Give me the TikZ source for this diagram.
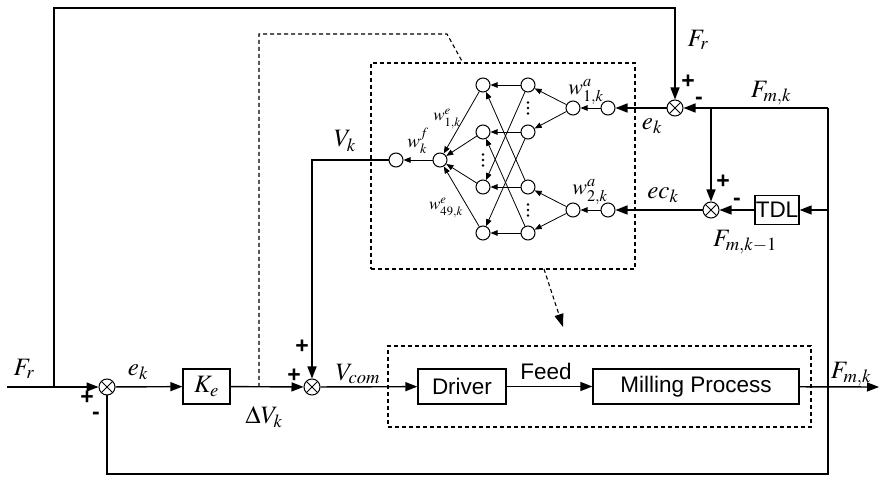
\documentclass[tikz,border=0pt]{standalone}
\usepackage{mathptmx}
\usepackage[no-math]{fontspec}
\setmainfont{Liberation Serif}
\setsansfont{Liberation Sans}
\usetikzlibrary{arrows.meta}
\tikzset{
  sig/.style={line width=1.4pt},
  arr/.style={sig,-{Triangle[length=12pt,width=9pt]}},
  sumnode/.style={circle,draw,line width=1pt,minimum size=16pt,inner sep=0pt,
    path picture={\draw[line width=0.8pt]
      (path picture bounding box.north west)--(path picture bounding box.south east)
      (path picture bounding box.north east)--(path picture bounding box.south west);}},
  blk/.style={draw,line width=1.3pt,inner sep=0pt,font=\sffamily\fontsize{22.5}{26}\selectfont},
  neu/.style={circle,draw,line width=1pt,minimum size=14pt,inner sep=0pt},
  narr/.style={line width=0.8pt,-{Triangle[length=7pt,width=5.5pt]}},
  dsh/.style={line width=1.1pt,dash pattern=on 4pt off 3pt},
  lbl/.style={font=\fontsize{25}{28}\selectfont,inner sep=0pt},
  sansl/.style={font=\sffamily\fontsize{22.5}{26}\selectfont,inner sep=0pt},
  sgn/.style={font=\sffamily\bfseries\fontsize{23}{26}\selectfont,inner sep=0pt},
  walbl/.style={font=\fontsize{22}{24}\selectfont,inner sep=0pt},
  wflbl/.style={font=\fontsize{19}{22}\selectfont,inner sep=0pt},
  welbl/.style={font=\fontsize{17}{20}\selectfont,inner sep=0pt},
  dotm/.style={fill,circle,inner sep=0pt,minimum size=2.6pt},
}
\begin{document}
\begin{tikzpicture}[x=1pt,y=-1pt]
\useasboundingbox (0,0) rectangle (879,478);
% ---- main loop nodes
\coordinate (in) at (7,387);
\coordinate (bFr) at (54,387);
\node[sumnode] (s1) at (107,387) {};
\node[blk,minimum width=47pt,minimum height=35pt,font=\fontsize{25}{28}\selectfont] (Ke) at (206.5,386.5) {$K_e$};
\coordinate (bdV) at (259,387);
\node[sumnode] (s2) at (312,387) {};
\node[blk,minimum width=88pt,minimum height=35pt] (drv) at (462,386.5) {Driver};
\node[blk,minimum width=206pt,minimum height=35pt] (mill) at (696,386.5) {Milling Process};
\coordinate (bFm) at (828,387);
\coordinate (out) at (879,387);
\coordinate (bl) at (828,474);
\coordinate (bl2) at (107,474);
\coordinate (t1) at (54,8);
\coordinate (t2) at (675,8);
% ---- right side
\node[sumnode] (s3) at (675,108) {};
\coordinate (tr) at (828,108);
\coordinate (b2) at (711,108);
\node[sumnode] (s4) at (711,210) {};
\node[blk,minimum width=44pt,minimum height=29pt] (tdl) at (777,210) {TDL};
\coordinate (tdlin) at (828,210);
% ---- neural network
\node[neu] (a1) at (608,108) {};
\node[neu] (a2) at (608,210) {};
\node[neu] (h1) at (573,108) {};
\node[neu] (h2) at (573,210) {};
\node[neu] (c1) at (528,85) {};
\node[neu] (c2) at (528,132) {};
\node[neu] (c3) at (528,187) {};
\node[neu] (c4) at (528,233) {};
\node[neu] (d1) at (483,85) {};
\node[neu] (d2) at (483,132) {};
\node[neu] (d3) at (483,187) {};
\node[neu] (d4) at (483,233) {};
\node[neu] (o1) at (440,160) {};
\node[neu] (o2) at (396,160) {};
\coordinate (vk) at (312,160);
\foreach \x/\y [count=\n] in {528/108, 528/210, 483/160} {
  \node[dotm] (dA\n) at (\x,\y-5.5) {};
  \node[dotm] (dB\n) at (\x,\y) {};
  \node[dotm] (dC\n) at (\x,\y+5.5) {};
}
% ---- dashed frames
\node[draw,dsh,minimum width=264pt,minimum height=206pt,inner sep=0pt] (nnbox) at (503,166) {};
\node[draw,dsh,minimum width=423pt,minimum height=81pt,inner sep=0pt] (plant) at (599.5,386.5) {};
\coordinate (dk1) at (259,34);
\coordinate (dk2) at (447,34);
\coordinate (dk3) at (463,63);
\coordinate (da1) at (544,269);
\coordinate (da2) at (563,327);
\draw[dsh] (bdV) -- (dk1) -- (dk2) -- (dk3);
\draw[dsh,-{Triangle[length=13pt,width=9pt]}] (da1) -- (da2);
% ---- connectors main
\draw[arr] (in) -- (s1);
\draw[arr] (bFr) -- (t1) -- (t2) -- (s3);
\draw[arr] (s1) -- (Ke);
\draw[arr] (Ke) -- (s2);
\draw[arr] (s2) -- (drv);
\draw[arr] (drv) -- (mill);
\draw[arr] (mill) -- (out);
\draw[sig] (tr) -- (bl) -- (bl2) -- (s1);
\draw[arr] (tr) -- (s3);
\draw[arr] (b2) -- (s4);
\draw[arr] (tdlin) -- (tdl);
\draw[arr] (tdl) -- (s4);
\draw[arr] (s3) -- (a1);
\draw[arr] (s4) -- (a2);
\draw[arr] (o2) -- (vk) -- (s2);
% ---- connectors NN
\draw[narr] (a1) -- (h1);
\draw[narr] (a2) -- (h2);
\draw[narr] (h1) -- (c1);
\draw[narr] (h1) -- (c2);
\draw[narr] (h2) -- (c3);
\draw[narr] (h2) -- (c4);
\foreach \i in {1,2,3,4} {\draw[narr] (c\i) -- (d\i); \draw[narr] (d\i) -- (o1);}
\draw[narr] (c1) -- (d3);
\draw[narr] (c2) -- (d4);
\draw[narr] (c3) -- (d1);
\draw[narr] (c4) -- (d2);
\draw[narr] (o1) -- (o2);
% ---- labels
\node[lbl] (lFr) at (24,369) {$F_r$};
\node[sgn] (p1) at (87,398) {+};
\node[sgn] (m1) at (96,416) {-};
\node[lbl] (lek) at (138,372) {$e_k$};
\node[lbl] (ldV) at (264,417) {$\Delta V_k$};
\node[sgn] (p2) at (294,376) {+};
\node[sgn] (p3) at (302,347) {+};
\node[lbl] (lVc) at (358,374) {$V_{com}$};
\node[sansl] (lfeed) at (546,371) {Feed};
\node[lbl] (lFm) at (851,374) {$F_{m,k}$};
\node[lbl] (lFr2) at (698,40) {$F_r$};
\node[sgn] (p4) at (688,82) {+};
\node[sgn] (m4) at (699,101) {-};
\node[lbl] (lFm2) at (771,93) {$F_{m,k}$};
\node[lbl] (lek2) at (652,126) {$e_k$};
\node[sgn] (p5) at (723,182) {+};
\node[sgn] (m5) at (737,202) {-};
\node[lbl] (lec) at (663,195) {$ec_k$};
\node[lbl] (lFm3) at (745,242) {$F_{m,k-1}$};
\node[lbl] (lVk) at (345,141) {$V_k$};
\node[wflbl] (lwf) at (418,141) {$w_k^f$};
\node[welbl] (lwe1) at (447,119) {$w_{1,k}^e$};
\node[welbl] (lwe2) at (446,208) {$w_{49,k}^e$};
\node[walbl] (lwa1) at (586,92) {$w_{1,k}^a$};
\node[walbl] (lwa2) at (590,192) {$w_{2,k}^a$};
\end{tikzpicture}
\end{document}
